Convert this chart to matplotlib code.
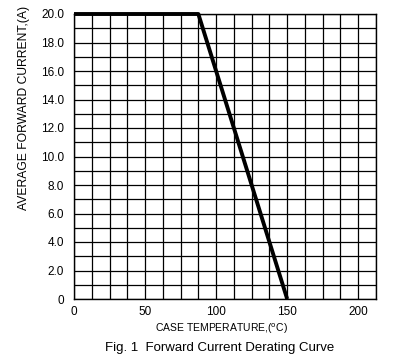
import numpy as np
import matplotlib.pyplot as plt

plt.rcParams['font.family'] = ['Liberation Sans', 'DejaVu Sans']

# derating curve points (case temp, current)
temp_c = [0, 87.5, 150]
current_a = [20.0, 20.0, 0.0]

x_ticks = [0, 50, 100, 150, 200]
y_ticks = [0, 2, 4, 6, 8, 10, 12, 14, 16, 18, 20]
y_labels = ['0', '2.0', '4.0', '6.0', '8.0', '10.0', '12.0', '14.0', '16.0', '18.0', '20.0']

fig = plt.figure(figsize=(4.01, 3.58), dpi=100)
ax = fig.add_axes([74 / 401, 1 - 299 / 358, 302 / 401, 285 / 358])

ax.set_xlim(0, 212.5)
ax.set_ylim(0, 20)

# grid: every 12.5 C and every 1 A
ax.set_xticks(np.arange(0, 212.6, 12.5), minor=True)
ax.set_yticks(np.arange(0, 20.1, 1), minor=True)
ax.grid(which='both', color='black', linewidth=0.9)
ax.set_axisbelow(True)

ax.set_xticks(x_ticks)
ax.set_xticklabels([str(v) for v in x_ticks])
ax.set_yticks(y_ticks)
ax.set_yticklabels(y_labels)
ax.tick_params(which='both', length=0, labelsize=8.5, colors='black')
ax.tick_params(axis='x', pad=5)
ax.tick_params(axis='y', pad=7)

for s in ax.spines.values():
    s.set_color('black')
    s.set_linewidth(1.0)

ax.plot(temp_c, current_a, color='black', linewidth=2.8, clip_on=False,
        solid_capstyle='butt', zorder=5)

fig.text(222 / 401, 1 - 329 / 358, 'CASE TEMPERATURE,($^{\\mathrm{o}}$C)',
         ha='center', va='center', fontsize=7.5)
fig.text(220 / 401, 1 - 348 / 358, 'Fig. 1  Forward Current Derating Curve',
         ha='center', va='center', fontsize=9.5)
fig.text(24 / 401, 1 - 108 / 358, 'AVERAGE FORWARD CURRENT,(A)',
         ha='center', va='center', rotation=90, fontsize=8.7)

fig.savefig('out.png', dpi=100)
